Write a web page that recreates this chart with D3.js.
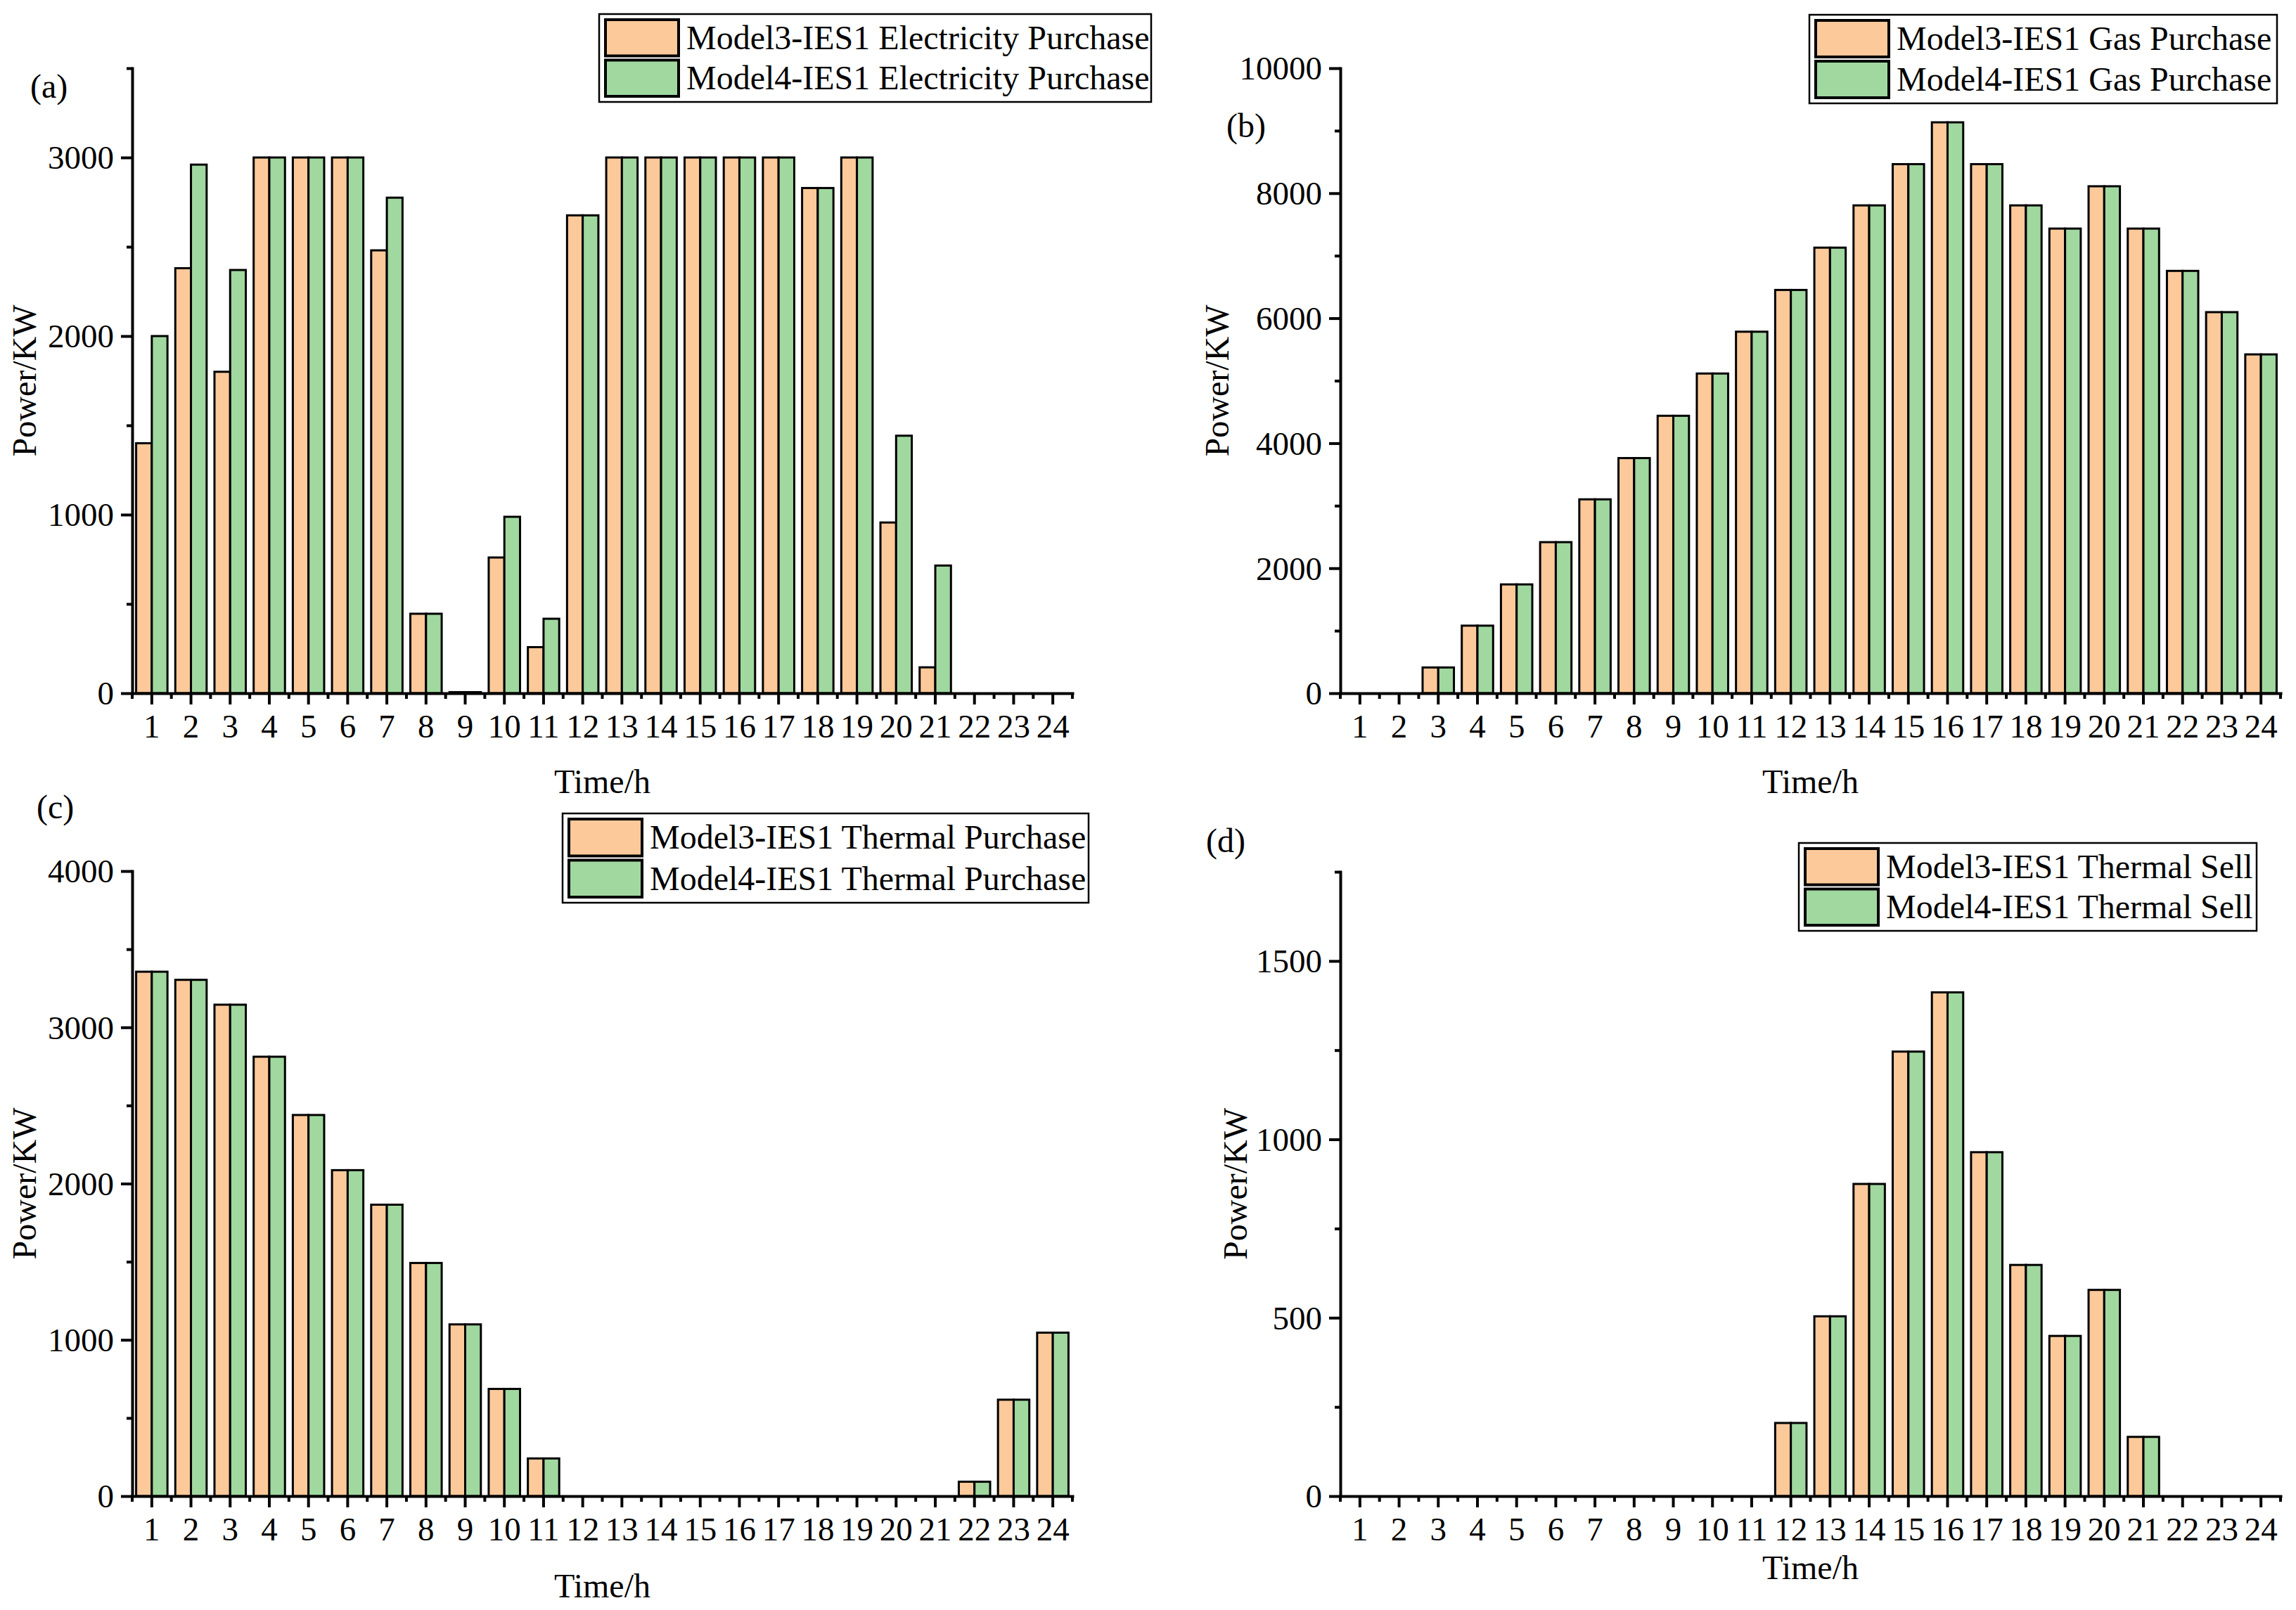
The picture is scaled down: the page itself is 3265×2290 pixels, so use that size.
<!DOCTYPE html>
<html>
<head>
<meta charset="utf-8">
<script src="https://cdn.jsdelivr.net/npm/d3@7/dist/d3.min.js"></script>
<style>
  html, body { margin: 0; padding: 0; background: #fff; }
  svg { display: block; }
  text { font-family: "Liberation Serif", "Times New Roman", serif; fill: #000; }
</style>
</head>
<body>
<svg id="chart" width="3265" height="2290"></svg>
<script>
// ---------------- DATA ----------------
const hours = [1,2,3,4,5,6,7,8,9,10,11,12,13,14,15,16,17,18,19,20,21,22,23,24];

const elecModel3 = [1400, 2380, 1800, 3000, 3000, 3000, 2480, 445, 6, 760, 258, 2676, 3000, 3000, 3000, 3000, 3000, 2829, 3000, 956, 145, 0, 0, 0];
const elecModel4 = [2000, 2960, 2370, 3000, 3000, 3000, 2775, 445, 6, 988, 417, 2676, 3000, 3000, 3000, 3000, 3000, 2829, 3000, 1442, 715, 0, 0, 0];

const gasModel3 = [0, 0, 412, 1081, 1741, 2417, 3102, 3762, 4439, 5115, 5784, 6452, 7129, 7805, 8465, 9134, 8465, 7805, 7434, 8111, 7434, 6757, 6097, 5421];
const gasModel4 = [0, 0, 412, 1081, 1741, 2417, 3102, 3762, 4439, 5115, 5784, 6452, 7129, 7805, 8465, 9134, 8465, 7805, 7434, 8111, 7434, 6757, 6097, 5421];

const thermBuyModel3 = [3356, 3304, 3145, 2812, 2439, 2086, 1865, 1492, 1099, 686, 241, 0, 0, 0, 0, 0, 0, 0, 0, 0, 0, 92, 617, 1046];
const thermBuyModel4 = [3356, 3304, 3145, 2812, 2439, 2086, 1865, 1492, 1099, 686, 241, 0, 0, 0, 0, 0, 0, 0, 0, 0, 0, 92, 617, 1046];

const thermSellModel3 = [0, 0, 0, 0, 0, 0, 0, 0, 0, 0, 0, 205, 504, 875, 1246, 1412, 964, 648, 449, 578, 166, 0, 0, 0];
const thermSellModel4 = [0, 0, 0, 0, 0, 0, 0, 0, 0, 0, 0, 205, 504, 875, 1246, 1412, 964, 648, 449, 578, 166, 0, 0, 0];

const yTicksA = [0, 1000, 2000, 3000];
const yTicksB = [0, 2000, 4000, 6000, 8000, 10000];
const yTicksC = [0, 1000, 2000, 3000, 4000];
const yTicksD = [0, 500, 1000, 1500];

const legendA = ["Model3-IES1 Electricity Purchase", "Model4-IES1 Electricity Purchase"];
const legendB = ["Model3-IES1 Gas Purchase", "Model4-IES1 Gas Purchase"];
const legendC = ["Model3-IES1 Thermal Purchase", "Model4-IES1 Thermal Purchase"];
const legendD = ["Model3-IES1 Thermal Sell", "Model4-IES1 Thermal Sell"];

const xTitle = "Time/h";
const yTitle = "Power/KW";

// ---------------- STYLE / LAYOUT ----------------
const COLORS = ["#FCC99A", "#A0D8A0"];
const TICK_FONT = 47;
const TITLE_FONT = 48;
const LEGEND_FONT = 48;

const panels = [
  { tag: "(a)", s3: elecModel3, s4: elecModel4, ticks: yTicksA, max: 3500, minor: 500, legend: legendA,
    x0: 188, x1: 1525, yTop: 97, yBase: 986,
    lg: { x: 852, y: 20, w: 785, h: 125 }, tagPos: [43, 139], yTitleX: 51, xTitleY: 1128 },
  { tag: "(b)", s3: gasModel3, s4: gasModel4, ticks: yTicksB, max: 10000, minor: 1000, legend: legendB,
    x0: 1906, x1: 3243, yTop: 97, yBase: 986,
    lg: { x: 2573, y: 21, w: 665, h: 126 }, tagPos: [1744, 195], yTitleX: 1747, xTitleY: 1128 },
  { tag: "(c)", s3: thermBuyModel3, s4: thermBuyModel4, ticks: yTicksC, max: 4000, minor: 500, legend: legendC,
    x0: 188, x1: 1525, yTop: 1239, yBase: 2128,
    lg: { x: 800, y: 1157, w: 748, h: 127 }, tagPos: [52, 1164], yTitleX: 51, xTitleY: 2272 },
  { tag: "(d)", s3: thermSellModel3, s4: thermSellModel4, ticks: yTicksD, max: 1750, minor: 250, legend: legendD,
    x0: 1906, x1: 3243, yTop: 1240, yBase: 2128,
    lg: { x: 2558, y: 1199, w: 651, h: 125 }, tagPos: [1715, 1212], yTitleX: 1773, xTitleY: 2246 }
];

const svg = d3.select("#chart");

panels.forEach(p => {
  const g = svg.append("g");
  const x = d3.scaleBand().domain(hours).range([p.x0, p.x1]).paddingInner(0).paddingOuter(0);
  const y = d3.scaleLinear().domain([0, p.max]).range([p.yBase, p.yTop]);
  const bw = x.bandwidth();
  const barW = bw * 0.4;

  // bars
  const series = [p.s3, p.s4];
  series.forEach((vals, si) => {
    g.append("g").selectAll("rect")
      .data(hours.map((h, i) => ({ h, v: vals[i] })).filter(d => d.v > 0))
      .join("rect")
      .attr("x", d => x(d.h) + bw / 2 - barW + si * barW)
      .attr("y", d => y(d.v))
      .attr("width", barW)
      .attr("height", d => y(0) - y(d.v))
      .attr("fill", COLORS[si])
      .attr("stroke", "#000")
      .attr("stroke-width", 3);
  });

  // y axis minor ticks
  const minorVals = d3.range(0, p.max + 0.001, p.minor).filter(v => !p.ticks.includes(v));
  const yMinor = g.append("g").attr("transform", `translate(${p.x0},0)`)
    .call(d3.axisLeft(y).tickValues(minorVals).tickSize(8).tickSizeOuter(0).tickFormat(""));
  yMinor.select(".domain").remove();

  // y axis major
  const yAx = g.append("g").attr("transform", `translate(${p.x0},0)`)
    .call(d3.axisLeft(y).tickValues(p.ticks).tickSize(16).tickSizeOuter(0).tickPadding(10).tickFormat(d3.format("d")));
  yAx.selectAll("text").style("font-size", TICK_FONT + "px").attr("dy", "0.34em");

  // x axis minor ticks (at band boundaries)
  const edges = hours.map(h => x(h)).concat([p.x1]);
  g.append("g").selectAll("line").data(edges).join("line")
    .attr("x1", d => d).attr("x2", d => d)
    .attr("y1", p.yBase).attr("y2", p.yBase + 8)
    .attr("stroke", "#000").attr("stroke-width", 4);

  // x axis major
  const xAx = g.append("g").attr("transform", `translate(0,${p.yBase})`)
    .call(d3.axisBottom(x).tickSize(16).tickSizeOuter(0).tickPadding(14));
  xAx.selectAll("text").style("font-size", TICK_FONT + "px").attr("dy", "0.71em");

  [yMinor, yAx, xAx].forEach(a => {
    a.selectAll("line").attr("stroke", "#000").attr("stroke-width", 4);
    a.selectAll(".domain").attr("stroke", "#000").attr("stroke-width", 4).attr("stroke-linecap", "square");
  });
  svg.selectAll(".tick text").attr("fill", "#000").style("font-family", '"Liberation Serif", serif');

  // titles
  g.append("text")
    .attr("x", (p.x0 + p.x1) / 2).attr("y", p.xTitleY)
    .attr("text-anchor", "middle").style("font-size", TITLE_FONT + "px")
    .text(xTitle);
  g.append("text")
    .attr("transform", `translate(${p.yTitleX},${(p.yBase + p.yTop) / 2}) rotate(-90)`)
    .attr("text-anchor", "middle").style("font-size", TITLE_FONT + "px")
    .text(yTitle);
  g.append("text")
    .attr("x", p.tagPos[0]).attr("y", p.tagPos[1])
    .style("font-size", TITLE_FONT + "px")
    .text(p.tag);

  // legend
  const L = g.append("g").attr("transform", `translate(${p.lg.x},${p.lg.y})`);
  L.append("rect").attr("x", 0).attr("y", 0).attr("width", p.lg.w).attr("height", p.lg.h)
    .attr("fill", "#fff").attr("stroke", "#000").attr("stroke-width", 2.5);
  const rowH = (p.lg.h - 14) / 2;
  p.legend.forEach((lab, i) => {
    const ry = 8 + i * (rowH + 2);
    const sh = rowH - 4;
    L.append("rect").attr("x", 9).attr("y", ry).attr("width", 104).attr("height", sh)
      .attr("fill", COLORS[i]).attr("stroke", "#000").attr("stroke-width", 4);
    L.append("text").attr("x", 124).attr("y", ry + sh / 2 + 16)
      .style("font-size", LEGEND_FONT + "px").text(lab);
  });
});
</script>
</body>
</html>
